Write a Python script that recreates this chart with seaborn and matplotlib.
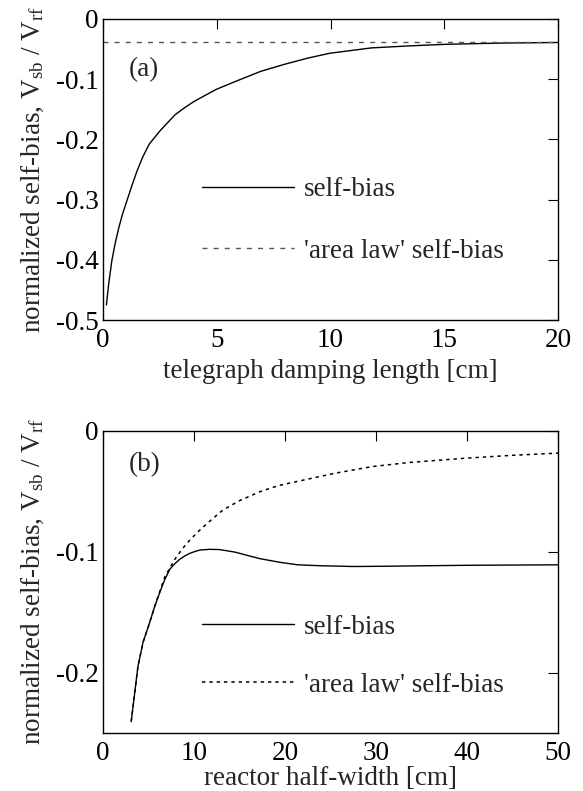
import matplotlib
matplotlib.use("Agg")
import matplotlib.pyplot as plt
import seaborn as sns
import numpy as np

sns.set_theme(style="white")
plt.rcParams['font.family'] = ['Liberation Serif', 'DejaVu Serif']
plt.rcParams['mathtext.fontset'] = 'custom'
plt.rcParams['mathtext.rm'] = 'Liberation Serif'
plt.rcParams['mathtext.it'] = 'Liberation Serif:italic'
plt.rcParams['axes.unicode_minus'] = False

# ---- panel (a) data ----
a_x = [0.15, 0.25, 0.39, 0.55, 0.7, 0.85, 1.05, 1.25, 1.5, 1.75, 2.03, 2.5, 3.17, 3.6,
       4.0, 4.97, 6.0, 6.93, 8.0, 9.0, 9.95, 11.8, 13.5, 15.1, 17.5, 20.0]
a_self = [-0.475, -0.44, -0.401, -0.37, -0.346, -0.325, -0.302, -0.279, -0.252, -0.229,
          -0.208, -0.186, -0.159, -0.147, -0.137, -0.117, -0.101, -0.087, -0.075, -0.065,
          -0.057, -0.048, -0.0446, -0.042, -0.040, -0.039]
a_area_x = [0.0, 20.0]
a_area = [-0.039, -0.039]
a_xticks = [0, 5, 10, 15, 20]
a_yticks = [0, -0.1, -0.2, -0.3, -0.4, -0.5]
a_ytick_labels = ['0', '-0.1', '-0.2', '-0.3', '-0.4', '-0.5']

# ---- panel (b) data ----
b_x = [3.1, 3.4, 3.84, 4.4, 5.07, 5.7, 6.33, 6.8, 7.35, 7.9, 8.44, 9.0, 9.54, 10.1,
       10.64, 11.7, 12.8, 14.5, 16.0, 17.3, 19.5, 21.4, 24.0, 27.5, 31.0, 35.0, 40.0, 50.0]
b_self = [-0.2405, -0.222, -0.195, -0.175, -0.160, -0.145, -0.132, -0.123, -0.1146,
          -0.110, -0.1064, -0.1036, -0.1015, -0.1000, -0.0988, -0.0982, -0.0984, -0.1005,
          -0.1035, -0.106, -0.109, -0.111, -0.1118, -0.1124, -0.1122, -0.1118, -0.1114,
          -0.111]
b_area_x = [3.1, 3.4, 3.84, 4.4, 5.07, 5.7, 6.33, 6.8, 7.35, 7.9, 8.74, 9.6, 10.64, 11.66,
            12.72, 13.2, 15.0, 17.3, 19.3, 21.4, 25.5, 29.6, 33.7, 39.8, 45.0, 50.0]
b_area = [-0.2405, -0.222, -0.195, -0.175, -0.160, -0.145, -0.131, -0.121, -0.1135,
          -0.1064, -0.0976, -0.090, -0.0823, -0.0754, -0.0686, -0.0656, -0.058, -0.0504,
          -0.0455, -0.042, -0.0353, -0.0298, -0.0264, -0.0229, -0.0205, -0.0187]
b_xticks = [0, 10, 20, 30, 40, 50]
b_yticks = [0, -0.1, -0.2]
b_ytick_labels = ['0', '-0.1', '-0.2']

legend_labels = ['self-bias', "'area law' self-bias"]
ylabel = r"normalized self-bias, V$_{\rm sb}$ / V$_{\rm rf}$"

FS = 19.5
W, H = 583, 791
fig = plt.figure(figsize=(W / 100, H / 100), dpi=100)
axa = fig.add_axes([103 / W, 1 - 320 / H, 455 / W, 301 / H])
axb = fig.add_axes([103 / W, 1 - 733 / H, 455 / W, 302.5 / H])


def style(ax, xticks, yticks, ylabels, xlim, ylim):
    ax.set_xlim(*xlim)
    ax.set_ylim(*ylim)
    ax.set_xticks(xticks)
    ax.set_xticklabels([str(t) for t in xticks])
    ax.set_yticks(yticks)
    ax.set_yticklabels(ylabels)
    ax.tick_params(direction='in', top=True, right=True, length=7, width=0.8,
                   labelsize=FS, colors='black')
    ax.tick_params(axis='x', pad=6)
    ax.tick_params(axis='y', pad=3)
    for s in ax.spines.values():
        s.set_color('black')
        s.set_linewidth(1.0)
        s.set_visible(True)
    ax.set_facecolor('white')
    ax.grid(False)


# panel (a)
sns.lineplot(x=a_x, y=a_self, ax=axa, color='black', lw=1.0, label=legend_labels[0])
sns.lineplot(x=a_area_x, y=a_area, ax=axa, color='#555555', lw=1.0,
             linestyle=(0, (3.6, 4.4)), label=legend_labels[1])
style(axa, a_xticks, a_yticks, a_ytick_labels, (0, 20), (-0.5, 0))
axa.set_xlabel('telegraph damping length [cm]', fontsize=FS, labelpad=4)
axa.set_ylabel(ylabel, fontsize=FS)
axa.yaxis.set_label_coords(-0.125, 0.5)
axa.text(1.13, -0.084, '(a)', fontsize=FS, va='center', ha='left')
axa.legend(loc='center left', bbox_to_anchor=(0.218, 0.33), frameon=False,
           fontsize=FS, handlelength=3.4, handletextpad=0.35, labelspacing=1.35,
           borderpad=0, borderaxespad=0)

# panel (b)
sns.lineplot(x=b_x, y=b_self, ax=axb, color='black', lw=1.0, label=legend_labels[0])
sns.lineplot(x=b_area_x, y=b_area, ax=axb, color='black', lw=1.1,
             linestyle=(0, (2.2, 2.6)), label=legend_labels[1])
style(axb, b_xticks, b_yticks, b_ytick_labels, (0, 50), (-0.25, 0))
axb.set_xlabel('reactor half-width [cm]', fontsize=FS, labelpad=0)
axb.set_ylabel(ylabel, fontsize=FS)
axb.yaxis.set_label_coords(-0.125, 0.5)
axb.text(2.8, -0.028, '(b)', fontsize=FS, va='center', ha='left')
axb.legend(loc='center left', bbox_to_anchor=(0.218, 0.254), frameon=False,
           fontsize=FS, handlelength=3.4, handletextpad=0.35, labelspacing=1.22,
           borderpad=0, borderaxespad=0)

fig.savefig('out.png', dpi=100, facecolor='white')
